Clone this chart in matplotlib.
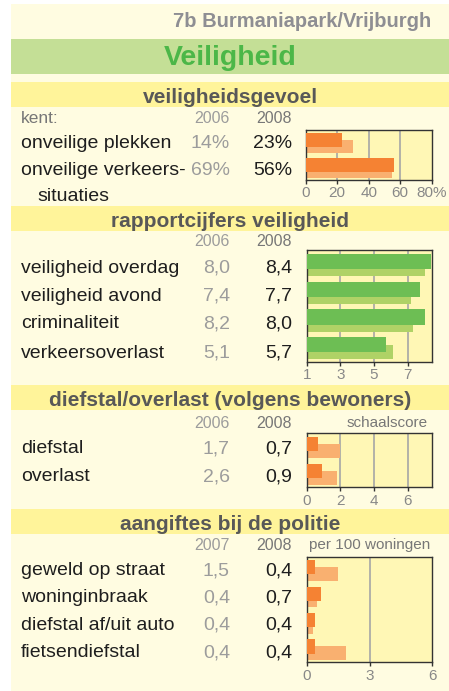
import matplotlib
matplotlib.use("Agg")
import matplotlib.pyplot as plt
from matplotlib.patches import Rectangle

plt.rcParams["font.family"] = ["Liberation Sans", "DejaVu Sans"]

W, H = 449, 691

# --- data ---
gevoel_labels = ["onveilige plekken", "onveilige verkeers-"]
gevoel_2006 = [14, 69]
gevoel_2008 = [23, 56]
gevoel_stad = [30, 55]

cijfer_labels = ["veiligheid overdag", "veiligheid avond", "criminaliteit", "verkeersoverlast"]
cijfer_2006 = [8.0, 7.4, 8.2, 5.1]
cijfer_2008 = [8.4, 7.7, 8.0, 5.7]
cijfer_stad = [8.0, 7.2, 7.3, 6.1]

overlast_labels = ["diefstal", "overlast"]
overlast_2006 = [1.7, 2.6]
overlast_2008 = [0.7, 0.9]
overlast_stad = [2.0, 1.8]

aangifte_labels = ["geweld op straat", "woninginbraak", "diefstal af/uit auto", "fietsendiefstal"]
aangifte_2007 = [1.5, 0.4, 0.4, 0.4]
aangifte_2008 = [0.4, 0.7, 0.4, 0.4]
aangifte_stad = [1.5, 0.5, 0.3, 1.9]

CREAM = "#FFFCE1"
BAND_GREEN = "#C4DF96"
TITLE_GREEN = "#4CB748"
BAND_YELLOW = "#FFF49A"
AX_FACE = "#FFF7B5"
HEAD_TXT = "#585858"
DARK_TXT = "#1E1E1E"
OLD_TXT = "#9C9C9C"
YEAR_TXT = "#777777"


def fmt(v):
    return f"{v:.1f}".replace(".", ",")


fig = plt.figure(figsize=(W / 100, H / 100), dpi=100)
fig.patch.set_facecolor("white")

# background canvas in pixel coordinates
bg = fig.add_axes([0, 0, 1, 1])
bg.set_xlim(0, W)
bg.set_ylim(H, 0)
bg.axis("off")

bg.add_patch(Rectangle((11, 4), W - 11, H - 4, color=CREAM, lw=0))
bg.add_patch(Rectangle((11, 39), W - 11, 35, color=BAND_GREEN, lw=0))
bg.text(431, 27.3, "7b Burmaniapark/Vrijburgh", ha="right", va="baseline",
        fontsize=14.5, fontweight="bold", color="#8E8E93")
bg.text(230, 65, "Veiligheid", ha="center", va="baseline",
        fontsize=20.5, fontweight="bold", color=TITLE_GREEN)


def band(y0, y1, title):
    bg.add_patch(Rectangle((11, y0), W - 11, y1 - y0, color=BAND_YELLOW, lw=0))
    bg.text(230, y1 - 4.5, title, ha="center", va="baseline",
            fontsize=15, fontweight="bold", color=HEAD_TXT)


def years(y, y_old, y_new):
    bg.text(230, y, y_old, ha="right", va="baseline", fontsize=11.5, color=OLD_TXT)
    bg.text(292, y, y_new, ha="right", va="baseline", fontsize=11.5, color=YEAR_TXT)


def rows(baselines, labels, old, new, fmt_fn):
    for yb, lab, o, n in zip(baselines, labels, old, new):
        bg.text(21, yb, lab, ha="left", va="baseline", fontsize=14, color=DARK_TXT)
        bg.text(230, yb, fmt_fn(o), ha="right", va="baseline", fontsize=14, color=OLD_TXT)
        bg.text(292, yb, fmt_fn(n), ha="right", va="baseline", fontsize=14, color=DARK_TXT)


def bar_axes(box, new, stad, xlim, ticks, ticklabels, grid, dark, light):
    left, right, top, bottom = box
    ax = fig.add_axes([left / W, 1 - bottom / H, (right - left) / W, (bottom - top) / H])
    ax.set_facecolor(AX_FACE)
    n = len(new)
    rows_ = range(n)
    ax.barh([i + 0.66 for i in rows_], stad, height=0.52, color=light, lw=0, zorder=2)
    ax.barh([i + 0.40 for i in rows_], new, height=0.54, color=dark, lw=0, zorder=3)
    for g in grid:
        ax.axvline(g, color="#A6A6A6", lw=1.2, zorder=1)
    ax.set_xlim(*xlim)
    ax.set_ylim(n, 0)
    ax.set_yticks([])
    ax.set_xticks(ticks)
    ax.set_xticklabels(ticklabels)
    ax.tick_params(axis="x", direction="out", length=3, width=1, pad=1.5,
                   labelsize=11, labelcolor="#888888", color="#333333")
    for s in ax.spines.values():
        s.set_color("#333333")
        s.set_linewidth(1.0)
    return ax


# --- veiligheidsgevoel ---
band(82, 107, "veiligheidsgevoel")
bg.text(21, 122.7, "kent:", ha="left", va="baseline", fontsize=12.5, color=YEAR_TXT)
years(122.7, "2006", "2008")
rows([148.3, 175], gevoel_labels, gevoel_2006, gevoel_2008, lambda v: f"{v}%")
bg.text(37, 200.7, "situaties", ha="left", va="baseline", fontsize=14, color=DARK_TXT)
bar_axes((305.7, 431.7, 130, 180), gevoel_2008, gevoel_stad, (0, 80),
         [0, 20, 40, 60, 80], ["0", "20", "40", "60", "80%"], [20, 40, 60],
         "#F58233", "#F9B070")

# --- rapportcijfers ---
band(206, 231, "rapportcijfers veiligheid")
years(245.7, "2006", "2008")
rows([272.7, 300.7, 328.3, 357.7], cijfer_labels, cijfer_2006, cijfer_2008, fmt)
bar_axes((306.7, 432.3, 250, 361.7), cijfer_2008, cijfer_stad, (1, 8.46),
         [1, 3, 5, 7], ["1", "3", "5", "7"], [3, 5, 7],
         "#6DBE54", "#AFD266")

# --- diefstal/overlast ---
band(385, 410, "diefstal/overlast (volgens bewoners)")
years(428.3, "2006", "2008")
bg.text(386.7, 426.7, "schaalscore", ha="center", va="baseline", fontsize=11, color=YEAR_TXT)
rows([453.3, 481], overlast_labels, overlast_2006, overlast_2008, fmt)
bar_axes((306.7, 432.3, 433.3, 487.3), overlast_2008, overlast_stad, (0, 7.46),
         [0, 2, 4, 6], ["0", "2", "4", "6"], [2, 4, 6],
         "#F58233", "#F9B070")

# --- aangiftes ---
band(509, 534, "aangiftes bij de politie")
years(550, "2007", "2008")
bg.text(370, 549.3, "per 100 woningen", ha="center", va="baseline", fontsize=11, color=YEAR_TXT)
rows([575, 602.3, 630, 657.3], aangifte_labels, aangifte_2007, aangifte_2008, fmt)
bar_axes((306.7, 432.3, 556.7, 662.3), aangifte_2008, aangifte_stad, (0, 6),
         [0, 3, 6], ["0", "3", "6"], [3],
         "#F58233", "#F9B070")

fig.savefig("out.png", dpi=100)
